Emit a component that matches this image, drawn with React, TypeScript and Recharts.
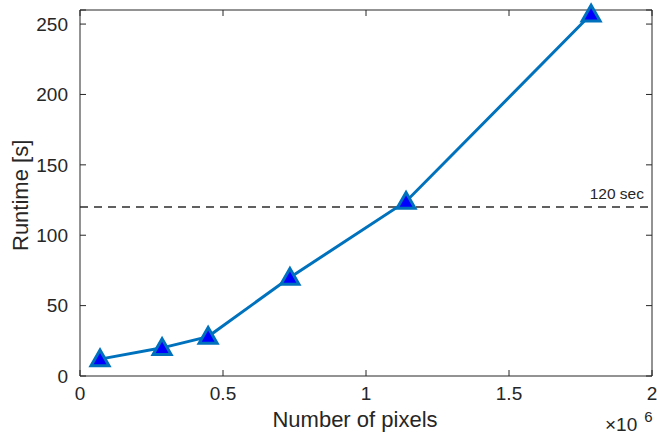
import { ComposedChart, Line, XAxis, YAxis, ReferenceLine } from 'recharts';

const pixels = [0.07, 0.287, 0.448, 0.734, 1.14, 1.787];
const runtime = [12, 20, 28, 70, 124, 257];
const xTicks = [0, 0.5, 1, 1.5, 2];
const yTicks = [0, 50, 100, 150, 200, 250];
const xMax = 2;
const yMax = 260;
const limitSec = 120;

const data = pixels.map((p, i) => ({ x: p, y: runtime[i] }));

const FONT = '"Liberation Sans", Arial, sans-serif';
const INK = '#262626';
const TICK = 6;

const tickStyle = { fill: INK, fontSize: 19, fontFamily: FONT };

// inner tick marks (and box edge at the ends) for a vertical position
function XTickMarks(props: any) {
  const { x1, y1, y2, edge } = props;
  const top = Math.min(y1, y2);
  const bot = Math.max(y1, y2);
  return (
    <g>
      {edge ? <line x1={x1} x2={x1} y1={top} y2={bot} stroke={INK} strokeWidth={1} /> : null}
      <line x1={x1} x2={x1} y1={top} y2={top + TICK} stroke={INK} strokeWidth={1} />
      <line x1={x1} x2={x1} y1={bot} y2={bot - TICK} stroke={INK} strokeWidth={1} />
    </g>
  );
}

function YTickMarks(props: any) {
  const { x1, x2, y1, edge } = props;
  const l = Math.min(x1, x2);
  const r = Math.max(x1, x2);
  return (
    <g>
      {edge ? <line x1={l} x2={r} y1={y1} y2={y1} stroke={INK} strokeWidth={1} /> : null}
      <line x1={l} x2={l + TICK} y1={y1} y2={y1} stroke={INK} strokeWidth={1} />
      <line x1={r} x2={r - TICK} y1={y1} y2={y1} stroke={INK} strokeWidth={1} />
    </g>
  );
}

function Triangle(props: any) {
  const { cx, cy } = props;
  if (cx == null || cy == null) return null;
  const h = 9;
  return (
    <path
      d={`M${cx},${cy - h} L${cx + h},${cy + h * 0.75} L${cx - h},${cy + h * 0.75} Z`}
      fill="#0000ff"
      stroke="#0072bd"
      strokeWidth={3}
    />
  );
}

export default function App() {
  return (
    <div style={{ position: 'absolute', left: 0, top: 0, width: 657, height: 437, background: '#fff' }}>
      <ComposedChart width={657} height={437} data={data} margin={{ top: 10, right: 5, bottom: 0, left: 0 }}>
        <XAxis
          dataKey="x"
          type="number"
          domain={[0, xMax]}
          ticks={xTicks}
          height={61}
          tickSize={0}
          tickMargin={11}
          tickLine={false}
          stroke={INK}
          tick={tickStyle}
          label={{
            value: 'Number of pixels',
            position: 'insideBottom',
            offset: 10,
            dx: -11,
            fill: INK,
            fontSize: 22,
            fontFamily: FONT,
          }}
        />
        <YAxis
          type="number"
          domain={[0, yMax]}
          ticks={yTicks}
          width={80}
          tickSize={0}
          tickMargin={12}
          tickLine={false}
          stroke={INK}
          tick={tickStyle}
          label={{
            value: 'Runtime [s]',
            angle: -90,
            position: 'insideLeft',
            offset: 20,
            dy: 58,
            fill: INK,
            fontSize: 22,
            fontFamily: FONT,
          }}
        />
        {xTicks.map((t) => (
          <ReferenceLine
            key={`xt${t}`}
            x={t}
            shape={(p: any) => <XTickMarks {...p} edge={t === xMax} />}
          />
        ))}
        {[...yTicks, yMax].map((t) => (
          <ReferenceLine
            key={`yt${t}`}
            y={t}
            shape={(p: any) => <YTickMarks {...p} edge={t === yMax} />}
          />
        ))}
        <ReferenceLine
          y={limitSec}
          stroke="#606060"
          strokeWidth={2}
          strokeDasharray="8 6"
          label={{
            value: '120 sec',
            position: 'insideBottomRight',
            offset: 8,
            fill: INK,
            fontSize: 15.5,
            fontFamily: FONT,
          }}
        />
        <Line
          dataKey="y"
          type="linear"
          stroke="#0072bd"
          strokeWidth={3}
          dot={<Triangle />}
          activeDot={false}
          isAnimationActive={false}
        />
      </ComposedChart>
      <div
        style={{
          position: 'absolute',
          left: 605,
          top: 415,
          fontFamily: FONT,
          fontSize: 19,
          color: INK,
          whiteSpace: 'nowrap',
          lineHeight: '20px',
        }}
      >
        ×10
        <span style={{ fontSize: 15, position: 'relative', top: -9, marginLeft: 7 }}>6</span>
      </div>
    </div>
  );
}
